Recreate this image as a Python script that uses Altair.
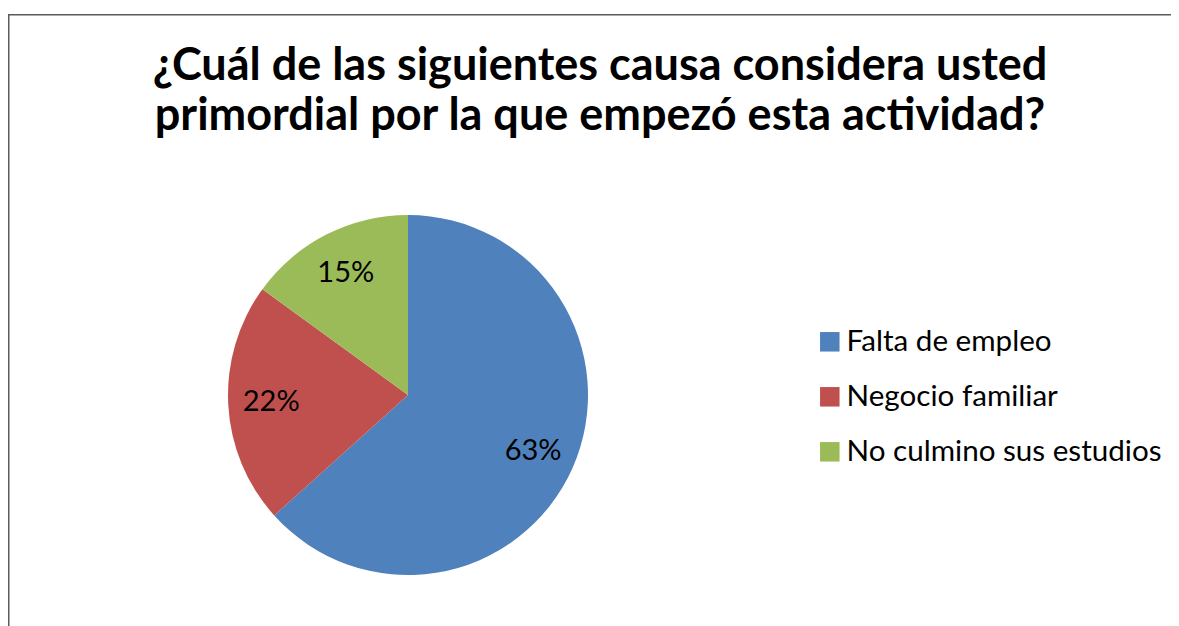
import altair as alt
import pandas as pd

categories = ["Falta de empleo", "Negocio familiar", "No culmino sus estudios"]
counts = [38, 13, 9]
labels = ["63%", "22%", "15%"]
colors = ["#4F81BD", "#C0504D", "#9BBB59"]
title_text = ("¿Cuál de las siguientes causa considera usted\n"
              "primordial por la que empezó esta actividad?")

df = pd.DataFrame({"cat": categories, "val": counts, "lab": labels,
                   "ord": list(range(len(categories)))})

W, H = 1163, 618
CX, CY = 400, 387
R = 180

color_scale = alt.Scale(domain=categories, range=colors)

arcs = alt.Chart(df).mark_arc(radius=R, strokeWidth=0).encode(
    theta=alt.Theta("val:Q", stack=True),
    order=alt.Order("ord:Q"),
    color=alt.Color("cat:N", scale=color_scale, sort=categories,
                    legend=alt.Legend(title=None, orient="none",
                                      legendX=807, legendY=319,
                                      symbolType="square", symbolSize=380,
                                      symbolStrokeWidth=0,
                                      labelFont="Lato", labelFontSize=29.6,
                                      labelColor="black", labelOffset=2,
                                      rowPadding=24, labelLimit=400)),
    x=alt.value(CX), y=alt.value(CY),
)

text = alt.Chart(df).mark_text(radius=137, font="Lato", fontSize=29,
                               color="black", align="center",
                               baseline="middle").encode(
    theta=alt.Theta("val:Q", stack=True),
    order=alt.Order("ord:Q"),
    text="lab:N",
    x=alt.value(CX), y=alt.value(CY),
)

title = alt.Chart(pd.DataFrame({"t": [title_text]})).mark_text(
    font="Lato", fontSize=45, fontWeight="bold", color="black",
    align="center", baseline="alphabetic", lineBreak="\n", lineHeight=50,
).encode(text="t:N", x=alt.value(592), y=alt.value(72))

border = alt.Chart(pd.DataFrame({"a": [0]})).mark_rect(
    fill=None, stroke="#5a5a5a", strokeWidth=1.5).encode(
    x=alt.value(0.75), x2=alt.value(W + 10),
    y=alt.value(6.75), y2=alt.value(H + 10),
)

chart = alt.layer(border, arcs, text, title).properties(
    width=W, height=H,
    padding=0,
    autosize=alt.AutoSizeParams(type="none"),
).configure_view(strokeWidth=0)

chart.save("out.html", embed_options={"renderer": "svg", "actions": False})
